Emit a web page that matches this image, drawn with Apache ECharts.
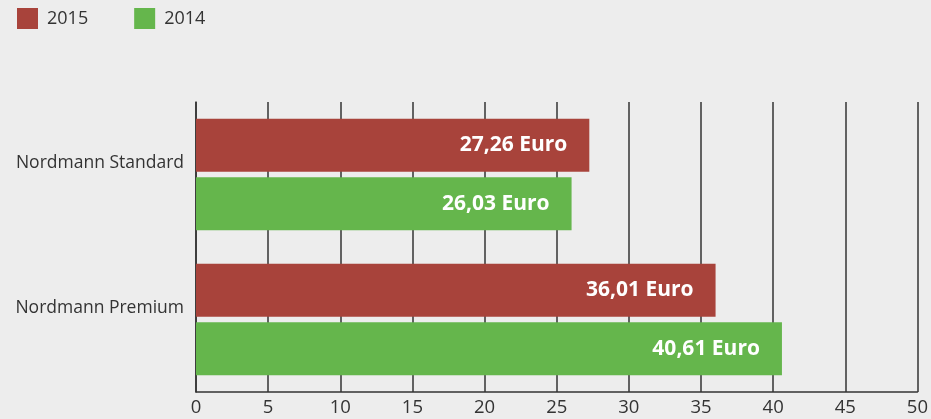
<!DOCTYPE html>
<html>
<head>
<meta charset="utf-8">
<script src="https://cdn.jsdelivr.net/npm/echarts@6/dist/echarts.min.js"></script>
<style>
  html, body { margin: 0; padding: 0; background: #ededed; }
  #chart { width: 931px; height: 419px; }
</style>
</head>
<body>
<div id="chart"></div>
<script>
const categories = ['Nordmann Standard', 'Nordmann Premium']
const values2015 = [27.26, 36.01]
const values2014 = [26.03, 40.61]

const fontFamily = '"Open Sans", "Noto Sans", sans-serif'

function euro(p) {
  return p.value.toFixed(2).replace('.', ',') + ' Euro'
}

const barLabel = {
  show: true,
  position: 'insideRight',
  distance: 22,
  color: '#fff',
  fontFamily: fontFamily,
  fontWeight: 'bold',
  fontSize: 21,
  formatter: euro
}

const chart = echarts.init(document.getElementById('chart'))
chart.setOption({
  backgroundColor: '#ededed',
  animation: false,
  legend: {
    left: 12,
    top: 3,
    itemWidth: 21,
    itemHeight: 21,
    itemGap: 46,
    icon: 'rect',
    textStyle: { color: '#333', fontSize: 18, fontFamily: fontFamily, padding: [0, 0, 0, 4] },
    data: ['2015', '2014']
  },
  grid: { left: 196, right: 11, top: 102, bottom: 27 },
  xAxis: {
    type: 'value',
    min: 0,
    max: 50,
    interval: 5,
    axisLine: { show: true, lineStyle: { color: '#333', width: 1.5 } },
    axisTick: { show: false },
    axisLabel: { color: '#333', fontSize: 18.5, fontFamily: fontFamily, margin: 6 },
    splitLine: { show: true, lineStyle: { color: '#333', width: 1.5 } }
  },
  yAxis: {
    type: 'category',
    inverse: true,
    data: categories,
    axisLine: { show: true, lineStyle: { color: '#333', width: 1.5 } },
    axisTick: { show: false },
    axisLabel: {
      color: '#333',
      fontSize: 17.5,
      fontFamily: fontFamily,
      margin: 12,
      verticalAlign: 'bottom',
      padding: [0, 0, 2, 0]
    }
  },
  series: [
    {
      name: '2015',
      type: 'bar',
      barWidth: 53,
      barGap: '10%',
      itemStyle: { color: '#a8433b' },
      label: barLabel,
      data: values2015
    },
    {
      name: '2014',
      type: 'bar',
      barWidth: 53,
      barGap: '10%',
      itemStyle: { color: '#65b64c' },
      label: barLabel,
      data: values2014
    }
  ]
})
</script>
</body>
</html>
